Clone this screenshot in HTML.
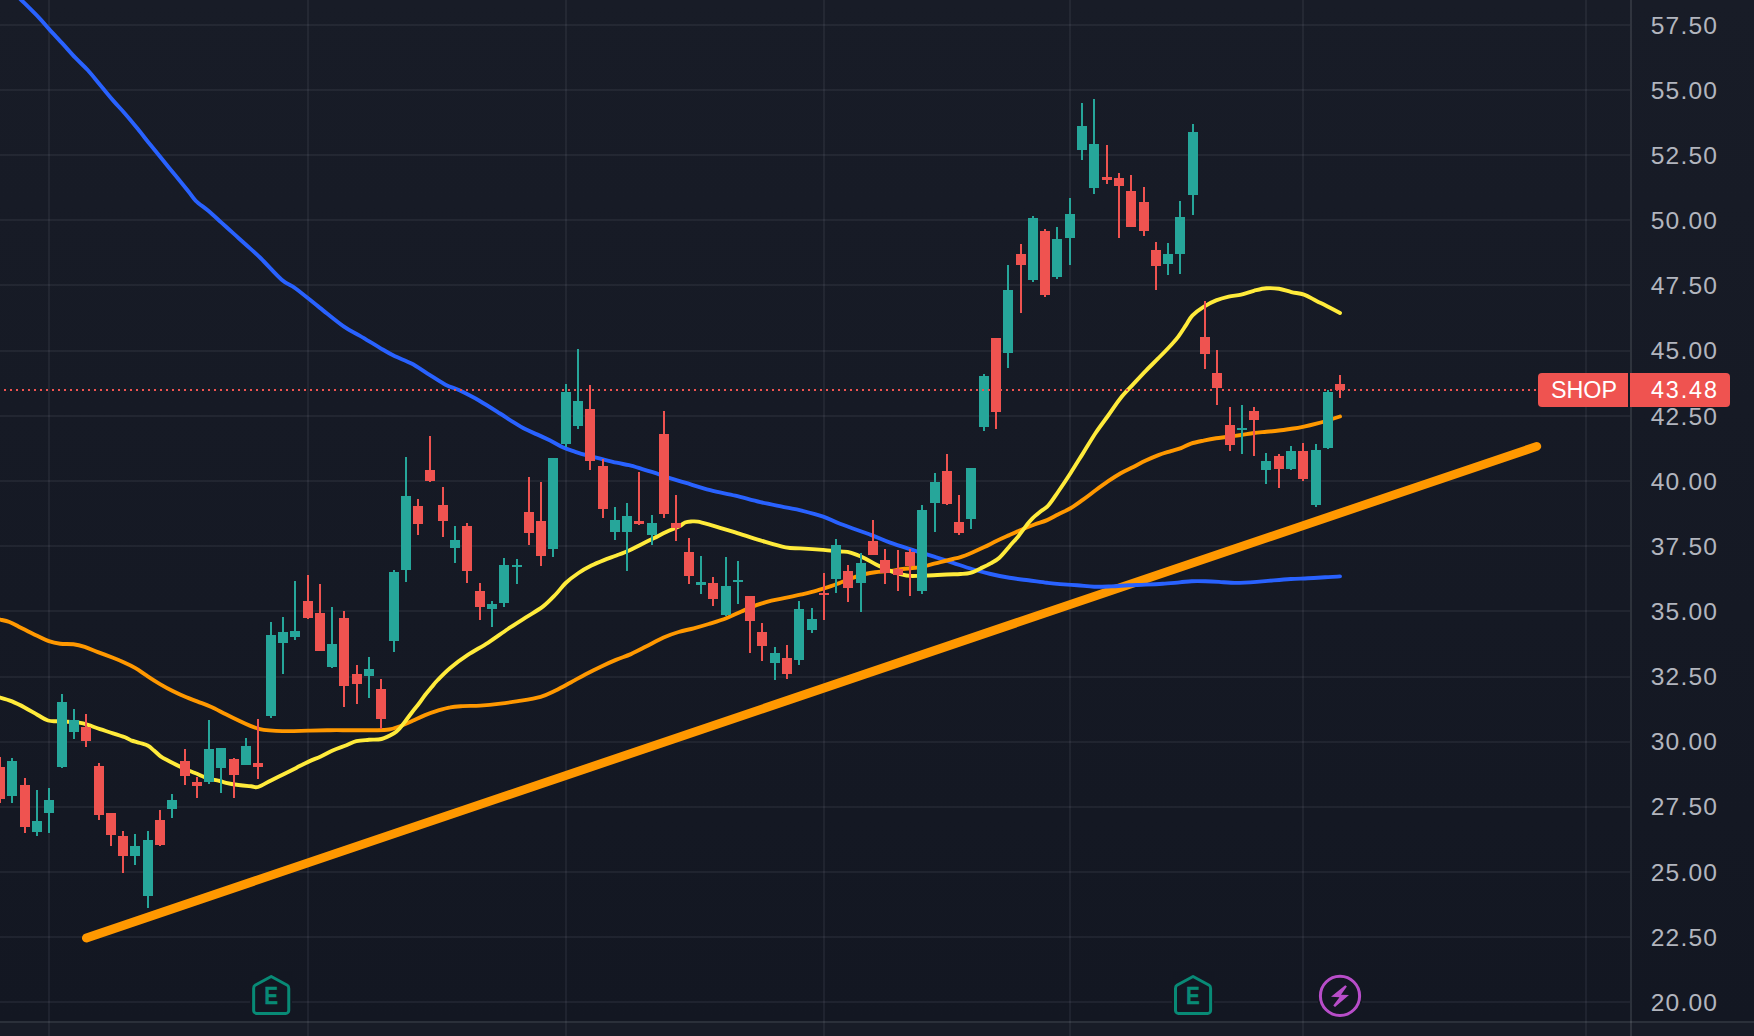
<!DOCTYPE html>
<html lang="en"><head><meta charset="utf-8"><title>SHOP chart</title>
<style>html,body{margin:0;padding:0;background:#131722;overflow:hidden}svg{display:block}text{font-family:"Liberation Sans",sans-serif}</style></head><body>
<svg width="1754" height="1036" viewBox="0 0 1754 1036">
<defs><linearGradient id="bg" gradientUnits="userSpaceOnUse" x1="0" y1="0" x2="0" y2="1022"><stop offset="0" stop-color="#181c27"/><stop offset="1" stop-color="#131722"/></linearGradient></defs>
<rect width="1754" height="1036" fill="url(#bg)"/>
<rect x="0" y="1023" width="1754" height="13" fill="#181c27"/>
<g fill="#f0f3fa" fill-opacity="0.06" shape-rendering="crispEdges">
<rect x="0" y="24" width="1630" height="2"/>
<rect x="0" y="89" width="1630" height="2"/>
<rect x="0" y="154" width="1630" height="2"/>
<rect x="0" y="219" width="1630" height="2"/>
<rect x="0" y="284" width="1630" height="2"/>
<rect x="0" y="350" width="1630" height="2"/>
<rect x="0" y="415" width="1630" height="2"/>
<rect x="0" y="480" width="1630" height="2"/>
<rect x="0" y="545" width="1630" height="2"/>
<rect x="0" y="610" width="1630" height="2"/>
<rect x="0" y="676" width="1630" height="2"/>
<rect x="0" y="741" width="1630" height="2"/>
<rect x="0" y="806" width="1630" height="2"/>
<rect x="0" y="871" width="1630" height="2"/>
<rect x="0" y="936" width="1630" height="2"/>
<rect x="0" y="1001" width="250" height="2"/>
<rect x="292" y="1001" width="880" height="2"/>
<rect x="1214" y="1001" width="104" height="2"/>
<rect x="1362" y="1001" width="268" height="2"/>
<rect x="48" y="0" width="2" height="1036"/>
<rect x="307" y="0" width="2" height="1036"/>
<rect x="565" y="0" width="2" height="1036"/>
<rect x="823" y="0" width="2" height="1036"/>
<rect x="1069" y="0" width="2" height="1036"/>
<rect x="1302" y="0" width="2" height="1036"/>
<rect x="1585" y="0" width="2" height="1036"/>
</g>
<line x1="86.4" y1="938" x2="1536.8" y2="446.4" stroke="#ff9800" stroke-width="8.8" stroke-linecap="round"/>
<path d="M20.3 -1.0C20.5 -0.8 18.2 -3.1 21.3 0.0C24.4 3.1 34.3 12.8 38.9 17.6C43.5 22.4 44.9 24.5 48.9 28.9C52.9 33.3 58.4 39.1 62.8 43.9C67.2 48.7 71.1 53.3 75.3 57.7C79.5 62.1 83.7 65.7 87.9 70.3C92.1 74.9 96.2 80.3 100.4 85.3C104.6 90.3 108.8 95.6 113.0 100.4C117.2 105.2 121.3 109.4 125.5 114.2C129.7 119.0 133.9 124.2 138.1 129.3C142.3 134.5 146.4 139.9 150.6 145.1C154.8 150.3 159.0 155.5 163.2 160.6C167.4 165.7 171.5 170.6 175.7 175.7C179.9 180.8 185.0 187.1 188.3 191.3C191.7 195.5 192.5 197.6 195.8 200.8C199.1 204.1 204.1 207.2 208.3 210.8C212.5 214.4 216.7 218.3 220.9 222.1C225.1 225.9 229.2 229.6 233.4 233.4C237.6 237.2 241.4 240.5 246.0 244.7C250.6 248.9 255.1 252.7 261.0 258.5C266.9 264.3 275.9 274.7 281.7 279.7C287.5 284.7 289.3 283.9 295.6 288.5C301.9 293.1 311.6 301.3 319.6 307.6C327.6 313.9 336.9 321.7 343.6 326.4C350.3 331.1 353.6 332.1 359.6 335.6C365.6 339.1 373.9 344.3 379.5 347.6C385.1 350.9 388.2 352.9 393.5 355.6C398.8 358.3 405.8 360.6 411.5 363.6C417.2 366.6 421.8 370.1 427.5 373.6C433.2 377.1 440.2 381.9 445.5 384.7C450.8 387.5 453.8 387.6 459.4 390.3C465.0 393.0 472.6 396.8 479.4 400.7C486.2 404.6 494.5 410.0 500.0 413.5C505.5 417.0 508.3 419.0 512.5 421.6C516.7 424.2 520.9 426.9 525.1 429.1C529.3 431.3 533.4 432.7 537.6 434.6C541.8 436.5 546.0 438.5 550.2 440.6C554.4 442.7 558.5 445.4 562.7 447.3C566.9 449.2 571.1 450.4 575.3 451.8C579.5 453.2 583.6 454.4 587.8 455.5C592.0 456.6 595.6 457.5 600.4 458.7C605.2 459.9 611.7 461.6 616.5 462.7C621.3 463.8 624.9 464.2 629.1 465.2C633.3 466.2 637.4 467.6 641.6 468.9C645.8 470.1 650.0 471.3 654.2 472.7C658.4 474.1 661.6 475.5 666.7 477.2C671.9 478.9 677.9 480.5 685.1 482.7C692.4 484.9 701.8 488.0 710.2 490.2C718.6 492.4 726.9 493.7 735.3 495.7C743.7 497.7 752.0 500.3 760.4 502.2C768.8 504.1 778.8 505.9 785.5 507.3C792.2 508.7 794.3 508.8 800.6 510.3C806.9 511.9 816.6 514.4 823.2 516.6C829.8 518.9 832.0 520.7 840.0 523.8C848.0 526.9 863.0 532.0 871.4 535.1C879.8 538.2 882.9 540.1 890.2 542.7C897.5 545.3 907.8 548.4 915.3 550.8C922.8 553.2 929.1 555.1 935.4 557.1C941.7 559.1 946.9 560.8 953.0 562.8C959.1 564.8 965.5 567.1 971.8 569.0C978.1 570.9 984.3 572.5 990.6 574.0C996.9 575.5 1003.1 576.8 1009.4 577.8C1015.7 578.8 1022.0 579.5 1028.3 580.3C1034.6 581.1 1041.8 582.2 1047.1 582.8C1052.4 583.4 1055.0 583.7 1060.0 584.1C1065.0 584.5 1071.4 584.9 1077.1 585.3C1082.8 585.7 1088.5 586.5 1094.2 586.7C1099.9 586.9 1105.6 586.6 1111.3 586.4C1117.0 586.2 1122.7 585.6 1128.4 585.3C1134.1 585.0 1139.8 584.9 1145.5 584.6C1151.2 584.4 1156.9 584.2 1162.6 583.8C1168.3 583.4 1174.8 582.8 1179.7 582.4C1184.6 582.0 1187.4 581.4 1191.7 581.2C1196.0 581.0 1200.8 581.1 1205.4 581.2C1210.0 581.3 1214.8 581.6 1219.1 581.9C1223.4 582.2 1226.7 582.7 1231.0 582.8C1235.3 582.9 1240.4 582.8 1244.7 582.6C1249.0 582.5 1251.9 582.3 1256.7 581.9C1261.5 581.5 1268.1 580.9 1273.8 580.4C1279.5 579.9 1285.2 579.4 1290.9 579.0C1296.6 578.6 1302.3 578.6 1308.0 578.3C1313.7 578.0 1319.8 577.6 1325.1 577.3C1330.4 577.0 1337.5 576.5 1340.0 576.4" fill="none" stroke="#2962ff" stroke-width="3.9" stroke-linejoin="round" stroke-linecap="round"/>
<path d="M-3.0 619.2C-2.5 619.3 -2.1 619.1 0.0 619.6C2.1 620.1 6.3 620.8 9.4 622.0C12.5 623.2 15.7 625.1 18.8 626.7C21.9 628.3 25.0 629.8 28.2 631.4C31.4 633.0 34.2 634.5 37.7 636.1C41.2 637.7 45.1 639.9 48.9 641.2C52.6 642.5 56.1 643.2 60.2 643.7C64.3 644.2 69.3 643.8 73.4 644.3C77.5 644.8 80.6 645.6 84.7 646.9C88.8 648.2 93.2 650.3 97.9 652.1C102.6 653.9 108.6 656.1 113.0 657.8C117.4 659.5 120.5 660.8 124.2 662.5C128.0 664.2 131.7 665.9 135.5 668.1C139.3 670.3 142.7 673.0 146.8 675.7C150.9 678.4 155.6 681.5 160.0 684.1C164.4 686.7 168.8 689.1 173.2 691.3C177.6 693.5 182.3 695.6 186.4 697.3C190.5 699.0 193.6 700.0 197.7 701.6C201.8 703.2 206.1 704.6 210.8 706.7C215.5 708.8 221.2 711.9 225.9 714.2C230.6 716.6 235.0 718.8 239.1 720.8C243.2 722.8 246.9 724.5 250.4 725.9C253.9 727.3 256.7 728.4 259.8 729.1C262.9 729.9 265.4 730.1 269.2 730.4C273.0 730.7 278.3 731.0 282.4 731.1C286.5 731.2 289.0 731.2 293.7 731.1C298.4 731.0 304.6 730.8 310.6 730.6C316.7 730.5 323.4 730.3 330.0 730.2C336.6 730.1 342.2 730.2 350.0 730.2C357.8 730.2 370.0 730.3 376.5 730.2C383.0 730.1 385.2 730.1 389.1 729.5C393.0 728.9 396.1 727.8 400.0 726.3C403.9 724.8 408.4 722.7 412.6 720.8C416.8 718.9 420.9 716.8 425.1 715.1C429.3 713.4 433.5 711.9 437.7 710.6C441.9 709.3 446.0 708.0 450.2 707.3C454.4 706.5 457.8 706.4 462.8 706.1C467.8 705.8 474.0 706.0 480.3 705.6C486.6 705.2 494.1 704.4 500.4 703.6C506.7 702.9 511.3 702.2 518.0 701.1C524.7 700.0 534.3 698.6 540.6 696.8C546.9 695.0 550.6 692.9 555.6 690.5C560.6 688.1 565.7 685.2 570.7 682.5C575.7 679.8 580.7 676.8 585.7 674.2C590.7 671.6 595.8 669.1 600.8 666.7C605.8 664.3 610.9 662.0 615.9 659.9C620.9 657.8 625.9 656.3 630.9 654.1C635.9 651.9 640.5 649.4 646.0 646.6C651.5 643.8 658.2 639.9 663.6 637.5C669.0 635.1 673.6 633.5 678.6 632.0C683.6 630.5 688.7 629.6 693.7 628.3C698.7 627.0 703.3 625.7 708.7 624.0C714.1 622.3 720.8 620.3 726.3 618.2C731.8 616.1 736.4 613.7 741.4 611.5C746.4 609.3 751.4 607.0 756.4 605.2C761.4 603.4 766.5 602.0 771.5 600.7C776.5 599.4 781.5 598.7 786.5 597.6C791.5 596.5 796.6 595.6 801.6 594.4C806.6 593.2 811.7 592.0 816.7 590.6C821.7 589.2 827.8 587.2 831.7 585.9C835.6 584.6 836.5 584.1 840.0 582.8C843.5 581.4 848.4 579.3 852.6 577.8C856.8 576.3 861.4 574.9 865.1 574.0C868.9 573.1 870.9 572.7 875.1 572.2C879.3 571.7 885.6 571.4 890.2 570.9C894.8 570.4 898.6 569.5 902.8 569.0C907.0 568.5 911.1 568.4 915.3 567.8C919.5 567.2 923.7 566.2 927.9 565.3C932.1 564.3 936.2 563.1 940.4 562.1C944.6 561.1 949.6 559.8 953.0 559.0C956.4 558.2 957.4 558.1 960.5 557.1C963.6 556.1 967.8 554.4 971.8 552.7C975.8 551.0 980.1 549.1 984.3 547.1C988.5 545.1 992.7 542.8 996.9 540.8C1001.1 538.8 1005.2 537.0 1009.4 535.1C1013.6 533.2 1017.8 531.3 1022.0 529.5C1026.2 527.7 1030.3 526.1 1034.5 524.5C1038.7 522.9 1043.2 521.8 1047.1 520.1C1051.0 518.4 1054.1 516.5 1058.0 514.5C1061.9 512.5 1066.3 510.8 1070.5 508.3C1074.7 505.8 1078.9 502.6 1083.1 499.6C1087.3 496.6 1091.4 493.4 1095.6 490.3C1099.8 487.2 1104.0 484.1 1108.2 481.2C1112.4 478.3 1116.5 475.6 1120.7 473.2C1124.9 470.8 1129.1 469.0 1133.3 466.9C1137.5 464.8 1141.6 462.6 1145.8 460.6C1150.0 458.6 1154.2 456.7 1158.4 455.1C1162.6 453.5 1167.1 452.3 1170.9 451.1C1174.7 449.9 1177.7 449.4 1181.0 448.1C1184.3 446.9 1187.2 444.9 1191.0 443.6C1194.8 442.4 1199.4 441.5 1203.6 440.6C1207.8 439.7 1211.9 438.9 1216.1 438.3C1220.3 437.7 1224.5 437.4 1228.7 436.8C1232.9 436.2 1237.0 435.6 1241.2 435.0C1245.4 434.4 1249.6 433.5 1253.8 433.0C1258.0 432.5 1262.1 432.2 1266.3 431.8C1270.5 431.4 1274.7 431.0 1278.9 430.5C1283.1 430.0 1287.2 429.4 1291.4 428.8C1295.6 428.2 1299.8 427.5 1304.0 426.6C1308.2 425.7 1312.3 424.7 1316.5 423.6C1320.7 422.5 1325.2 421.2 1329.1 420.0C1333.0 418.8 1338.2 417.1 1340.0 416.5" fill="none" stroke="#ff9800" stroke-width="3.9" stroke-linejoin="round" stroke-linecap="round"/>
<path d="M-3.0 697.3C-2.5 697.3 -2.5 696.9 0.0 697.6C2.5 698.3 7.8 699.7 12.0 701.4C16.2 703.1 20.7 705.4 25.0 707.7C29.3 710.0 33.9 712.9 37.7 715.0C41.5 717.1 44.9 719.5 48.0 720.5C51.1 721.5 53.2 721.1 56.5 721.3C59.8 721.5 64.0 721.6 67.8 721.8C71.5 722.0 75.6 722.1 79.0 722.6C82.4 723.1 84.5 723.7 88.0 724.8C91.5 725.9 95.8 727.8 100.0 729.2C104.2 730.6 108.8 731.9 113.0 733.3C117.2 734.6 122.0 736.1 125.0 737.3C128.0 738.5 128.5 739.3 131.0 740.3C133.5 741.2 137.2 742.1 140.0 743.0C142.8 743.9 145.8 744.5 148.1 745.8C150.4 747.0 151.9 748.8 154.0 750.5C156.1 752.2 158.4 754.7 160.6 756.3C162.8 757.9 164.9 758.9 167.0 760.0C169.1 761.1 170.9 762.0 173.2 763.2C175.5 764.4 178.2 765.8 180.7 767.0C183.2 768.2 185.5 769.2 188.0 770.2C190.5 771.2 192.8 772.0 195.8 773.3C198.8 774.5 202.9 776.7 205.8 777.7C208.7 778.8 210.6 779.1 213.0 779.6C215.4 780.1 217.8 780.5 220.0 781.0C222.2 781.5 222.9 782.1 226.0 782.8C229.1 783.5 234.3 784.4 238.5 785.0C242.7 785.6 247.8 786.0 251.0 786.3C254.2 786.6 254.7 788.0 258.0 787.0C261.3 786.0 266.7 782.5 271.0 780.4C275.3 778.3 279.4 776.3 283.6 774.2C287.8 772.1 292.0 770.0 296.2 767.9C300.4 765.8 304.5 763.5 308.7 761.6C312.9 759.7 317.1 758.1 321.3 756.2C325.5 754.3 329.6 751.8 333.8 750.0C338.0 748.2 342.6 746.8 346.4 745.3C350.2 743.8 352.6 742.1 356.4 741.2C360.2 740.3 364.8 740.2 369.0 739.8C373.2 739.4 377.3 740.1 381.5 739.0C385.7 737.9 390.9 735.1 394.0 733.3C397.1 731.5 397.9 730.3 400.0 728.0C402.1 725.7 404.5 722.2 406.6 719.5C408.7 716.8 410.5 714.2 412.6 711.5C414.7 708.8 416.9 706.2 419.0 703.5C421.1 700.8 423.0 697.8 425.1 695.0C427.2 692.2 429.6 689.5 431.7 687.0C433.8 684.5 434.6 683.2 437.7 680.0C440.8 676.8 445.2 672.1 450.2 667.9C455.2 663.7 461.5 659.1 467.8 654.9C474.1 650.7 481.2 647.1 487.9 642.8C494.6 638.5 501.6 633.2 507.9 629.0C514.2 624.8 519.6 621.5 525.5 617.7C531.4 613.9 538.1 610.3 543.1 606.4C548.1 602.5 551.8 598.4 555.6 594.5C559.4 590.6 561.9 586.6 565.7 583.0C569.5 579.4 574.2 575.9 578.5 573.0C582.8 570.1 587.1 567.8 591.4 565.6C595.6 563.5 599.8 561.8 604.0 560.1C608.2 558.4 612.3 557.1 616.5 555.5C620.7 553.9 624.9 552.4 629.1 550.5C633.3 548.6 637.4 546.3 641.6 544.2C645.8 542.1 650.0 540.1 654.2 538.0C658.4 535.9 662.6 533.6 666.7 531.7C670.8 529.8 675.9 528.0 679.0 526.5C682.1 525.0 683.1 523.3 685.1 522.5C687.1 521.7 688.9 521.6 691.0 521.5C693.1 521.4 694.5 521.1 697.7 521.6C700.9 522.1 703.9 523.0 710.2 524.8C716.5 526.6 726.9 529.8 735.3 532.4C743.7 535.0 752.0 537.9 760.4 540.4C768.8 542.9 778.8 546.1 785.5 547.4C792.2 548.7 794.3 548.0 800.6 548.4C806.9 548.8 816.6 549.4 823.2 549.9C829.8 550.4 836.0 551.2 840.0 551.5C844.0 551.8 844.8 551.4 847.5 551.9C850.2 552.4 853.4 553.5 856.3 554.6C859.2 555.7 861.5 556.6 865.1 558.4C868.7 560.2 873.4 563.2 877.6 565.3C881.8 567.4 886.4 569.4 890.2 570.9C894.0 572.4 896.9 573.2 900.2 574.0C903.6 574.8 905.7 575.6 910.3 575.9C914.9 576.1 921.8 575.7 927.9 575.5C934.0 575.3 941.3 574.8 946.7 574.5C952.1 574.2 956.5 574.3 960.5 574.0C964.5 573.7 967.1 573.7 970.5 572.8C973.9 571.9 977.2 570.0 980.6 568.4C984.0 566.8 987.5 565.2 990.6 563.4C993.7 561.6 996.3 560.5 999.4 557.7C1002.5 554.9 1006.3 550.0 1009.4 546.4C1012.5 542.8 1015.5 539.7 1018.2 536.4C1020.9 533.1 1023.4 529.3 1025.7 526.4C1028.0 523.5 1029.5 521.3 1032.0 518.8C1034.5 516.3 1038.1 513.5 1040.8 511.3C1043.5 509.1 1045.4 508.7 1048.3 505.5C1051.2 502.3 1054.3 497.4 1058.0 492.0C1061.7 486.6 1066.3 479.7 1070.5 473.2C1074.7 466.7 1078.9 459.8 1083.1 453.1C1087.3 446.4 1091.4 439.3 1095.6 433.0C1099.8 426.7 1104.0 421.4 1108.2 415.5C1112.4 409.6 1116.5 403.1 1120.7 397.9C1124.9 392.7 1129.1 388.6 1133.3 384.1C1137.5 379.6 1141.6 375.1 1145.8 370.8C1150.0 366.5 1154.2 362.5 1158.4 358.2C1162.6 353.9 1167.6 348.8 1170.9 345.2C1174.2 341.6 1176.0 339.8 1178.5 336.4C1181.0 333.0 1183.7 328.6 1186.0 325.1C1188.3 321.6 1189.4 318.7 1192.3 315.6C1195.2 312.6 1199.6 309.3 1203.6 306.8C1207.6 304.3 1211.9 302.1 1216.1 300.4C1220.3 298.7 1224.5 297.6 1228.7 296.6C1232.9 295.6 1237.0 295.6 1241.2 294.6C1245.4 293.6 1249.6 291.9 1253.8 290.8C1258.0 289.8 1262.1 288.6 1266.3 288.3C1270.5 288.0 1274.7 288.2 1278.9 288.8C1283.1 289.4 1287.2 291.1 1291.4 292.1C1295.6 293.1 1299.8 293.1 1304.0 294.6C1308.2 296.1 1312.3 298.8 1316.5 300.9C1320.7 303.0 1325.2 305.2 1329.1 307.2C1333.0 309.2 1338.2 312.0 1340.0 313.0" fill="none" stroke="#ffeb3b" stroke-width="3.9" stroke-linejoin="round" stroke-linecap="round"/>
<g shape-rendering="crispEdges">
<path fill="#26a69a" d="M11 758h2v45h-2zM36 790h2v46h-2zM48 788h2v45h-2zM61 694h2v74h-2zM73 709h2v30h-2zM134 834h2v31h-2zM147 831h2v77h-2zM171 794h2v24h-2zM208 720h2v64h-2zM220 748h2v45h-2zM245 738h2v27h-2zM270 622h2v96h-2zM282 617h2v57h-2zM294 581h2v59h-2zM331 607h2v61h-2zM368 657h2v41h-2zM393 570h2v82h-2zM405 457h2v125h-2zM454 526h2v37h-2zM491 601h2v26h-2zM503 558h2v49h-2zM516 559h2v25h-2zM552 458h2v99h-2zM565 384h2v63h-2zM577 349h2v80h-2zM614 507h2v33h-2zM626 503h2v68h-2zM651 515h2v30h-2zM700 556h2v38h-2zM725 557h2v59h-2zM737 561h2v43h-2zM774 647h2v33h-2zM798 601h2v64h-2zM811 608h2v25h-2zM835 539h2v54h-2zM860 553h2v59h-2zM921 505h2v89h-2zM934 473h2v59h-2zM970 468h2v61h-2zM983 374h2v57h-2zM1007 265h2v103h-2zM1032 216h2v66h-2zM1056 227h2v52h-2zM1069 198h2v67h-2zM1081 103h2v57h-2zM1093 99h2v95h-2zM1167 243h2v32h-2zM1179 201h2v73h-2zM1192 124h2v91h-2zM1241 405h2v49h-2zM1265 453h2v31h-2zM1290 446h2v24h-2zM1315 444h2v63h-2zM1327 390h2v59h-2zM7 761h10v35h-10zM32 821h10v11h-10zM44 800h10v13h-10zM57 702h10v65h-10zM69 720h10v12h-10zM130 846h10v10h-10zM143 840h10v56h-10zM167 800h10v9h-10zM204 749h10v33h-10zM216 748h10v20h-10zM241 746h10v19h-10zM266 635h10v81h-10zM278 632h10v11h-10zM290 631h10v6h-10zM327 644h10v23h-10zM364 669h10v7h-10zM389 572h10v69h-10zM401 496h10v74h-10zM450 540h10v8h-10zM487 604h10v5h-10zM499 565h10v38h-10zM512 565h10v2h-10zM548 458h10v91h-10zM561 392h10v52h-10zM573 401h10v25h-10zM610 520h10v12h-10zM622 516h10v16h-10zM647 523h10v12h-10zM696 582h10v3h-10zM721 586h10v29h-10zM733 580h10v2h-10zM770 653h10v10h-10zM794 609h10v51h-10zM807 619h10v11h-10zM831 545h10v34h-10zM856 563h10v20h-10zM917 510h10v81h-10zM930 482h10v21h-10zM966 468h10v51h-10zM979 376h10v51h-10zM1003 290h10v63h-10zM1028 218h10v62h-10zM1052 239h10v38h-10zM1065 214h10v24h-10zM1077 126h10v24h-10zM1089 144h10v44h-10zM1163 254h10v10h-10zM1175 217h10v37h-10zM1188 132h10v63h-10zM1237 428h10v2h-10zM1261 461h10v9h-10zM1286 451h10v18h-10zM1311 450h10v55h-10zM1323 392h10v56h-10z"/>
<path fill="#ef5350" d="M-1 757h2v46h-2zM24 778h2v55h-2zM85 714h2v33h-2zM98 763h2v57h-2zM110 813h2v33h-2zM122 831h2v42h-2zM159 810h2v36h-2zM184 749h2v36h-2zM196 777h2v21h-2zM233 758h2v40h-2zM257 719h2v60h-2zM307 575h2v44h-2zM319 584h2v67h-2zM343 611h2v96h-2zM356 665h2v39h-2zM380 679h2v50h-2zM417 499h2v36h-2zM429 436h2v46h-2zM442 487h2v50h-2zM466 523h2v60h-2zM479 583h2v37h-2zM528 477h2v68h-2zM540 482h2v84h-2zM589 385h2v85h-2zM602 459h2v59h-2zM638 472h2v53h-2zM663 411h2v107h-2zM675 495h2v46h-2zM688 538h2v46h-2zM712 577h2v29h-2zM749 596h2v57h-2zM761 623h2v38h-2zM786 645h2v34h-2zM823 573h2v47h-2zM847 565h2v37h-2zM872 520h2v35h-2zM884 549h2v35h-2zM897 550h2v41h-2zM909 549h2v47h-2zM946 454h2v51h-2zM958 495h2v40h-2zM995 338h2v91h-2zM1020 244h2v69h-2zM1044 229h2v68h-2zM1106 145h2v39h-2zM1118 173h2v65h-2zM1130 175h2v52h-2zM1143 187h2v49h-2zM1155 242h2v48h-2zM1204 301h2v68h-2zM1216 350h2v55h-2zM1229 407h2v44h-2zM1253 407h2v49h-2zM1278 454h2v34h-2zM1302 443h2v38h-2zM1339 375h2v23h-2zM-5 767h10v32h-10zM20 785h10v42h-10zM81 727h10v14h-10zM94 766h10v49h-10zM106 813h10v22h-10zM118 836h10v20h-10zM155 820h10v25h-10zM180 761h10v15h-10zM192 782h10v4h-10zM229 759h10v16h-10zM253 763h10v4h-10zM303 601h10v17h-10zM315 613h10v38h-10zM339 618h10v68h-10zM352 674h10v10h-10zM376 689h10v30h-10zM413 506h10v18h-10zM425 470h10v11h-10zM438 505h10v16h-10zM462 526h10v45h-10zM475 591h10v16h-10zM524 512h10v21h-10zM536 521h10v35h-10zM585 409h10v52h-10zM598 466h10v43h-10zM634 521h10v3h-10zM659 434h10v80h-10zM671 523h10v5h-10zM684 552h10v24h-10zM708 583h10v16h-10zM745 596h10v25h-10zM757 632h10v14h-10zM782 658h10v16h-10zM819 593h10v2h-10zM843 571h10v17h-10zM868 541h10v14h-10zM880 560h10v13h-10zM893 569h10v6h-10zM905 552h10v14h-10zM942 471h10v33h-10zM954 522h10v11h-10zM991 338h10v74h-10zM1016 254h10v11h-10zM1040 231h10v64h-10zM1102 177h10v3h-10zM1114 178h10v8h-10zM1126 191h10v36h-10zM1139 202h10v29h-10zM1151 250h10v16h-10zM1200 337h10v17h-10zM1212 373h10v15h-10zM1225 425h10v20h-10zM1249 411h10v9h-10zM1274 456h10v13h-10zM1298 451h10v28h-10zM1335 384h10v6h-10z"/>
</g>
<line x1="-2" y1="390" x2="1538" y2="390" stroke="#ef5350" stroke-width="2" stroke-dasharray="2 4" shape-rendering="crispEdges"/>
<g fill="#f0f3fa" fill-opacity="0.115" shape-rendering="crispEdges"><rect x="1630" y="0" width="2" height="1036"/><rect x="0" y="1021" width="1754" height="2"/></g>
<g fill="#b2b5be" font-size="24.6" letter-spacing="1.2">
<text x="1650.7" y="33.5">57.50</text>
<text x="1650.7" y="98.7">55.00</text>
<text x="1650.7" y="163.8">52.50</text>
<text x="1650.7" y="229.0">50.00</text>
<text x="1650.7" y="294.1">47.50</text>
<text x="1650.7" y="359.3">45.00</text>
<text x="1650.7" y="424.5">42.50</text>
<text x="1650.7" y="489.6">40.00</text>
<text x="1650.7" y="554.8">37.50</text>
<text x="1650.7" y="619.9">35.00</text>
<text x="1650.7" y="685.1">32.50</text>
<text x="1650.7" y="750.3">30.00</text>
<text x="1650.7" y="815.4">27.50</text>
<text x="1650.7" y="880.6">25.00</text>
<text x="1650.7" y="945.7">22.50</text>
<text x="1650.7" y="1010.9">20.00</text>
</g>
<path fill="#ef5350" d="M1542 373H1628V407H1542a4 4 0 0 1 -4 -4V377a4 4 0 0 1 4 -4z"/>
<path fill="#ef5350" d="M1630 373H1726a4 4 0 0 1 4 4V403a4 4 0 0 1 -4 4H1630z"/>
<g fill="#ffffff">
<text x="1550.9" y="397.9" font-size="23.3" letter-spacing="0.05">SHOP</text>
<text x="1651.0" y="397.9" font-size="23.4" letter-spacing="1.85">43.48</text>
</g>
<rect x="250" y="972" width="42" height="46" fill="#131722"/><path d="M271.20 976.5L287.35 985.3Q288.75 986.1 288.75 988.4V1010.4a3 3 0 0 1 -3 3H256.65a3 3 0 0 1 -3 -3V988.4Q253.65 986.1 255.05 985.3z" fill="none" stroke="#088a76" stroke-width="3" stroke-linejoin="round"/><text x="271.2" y="1004.2" font-size="24" font-weight="bold" fill="#088a76" stroke="#088a76" stroke-width="0.35" text-anchor="middle" transform="translate(271.2 0) scale(0.86 1) translate(-271.2 0)">E</text>
<rect x="1172" y="972" width="42" height="46" fill="#131722"/><path d="M1193.05 976.5L1209.20 985.3Q1210.60 986.1 1210.60 988.4V1010.4a3 3 0 0 1 -3 3H1178.50a3 3 0 0 1 -3 -3V988.4Q1175.50 986.1 1176.90 985.3z" fill="none" stroke="#088a76" stroke-width="3" stroke-linejoin="round"/><text x="1193.0" y="1004.2" font-size="24" font-weight="bold" fill="#088a76" stroke="#088a76" stroke-width="0.35" text-anchor="middle" transform="translate(1193.0 0) scale(0.86 1) translate(-1193.0 0)">E</text>
<circle cx="1340" cy="995.9" r="19.6" fill="#131722" stroke="#b84dc9" stroke-width="3"/>
<path fill="#b84dc9" d="M1345.25 985.2L1346.9 986.5L1341 994.8L1349 995L1335 1007L1333.3 1005.4L1339.5 997.3L1331 996.7z"/>
</svg></body></html>
